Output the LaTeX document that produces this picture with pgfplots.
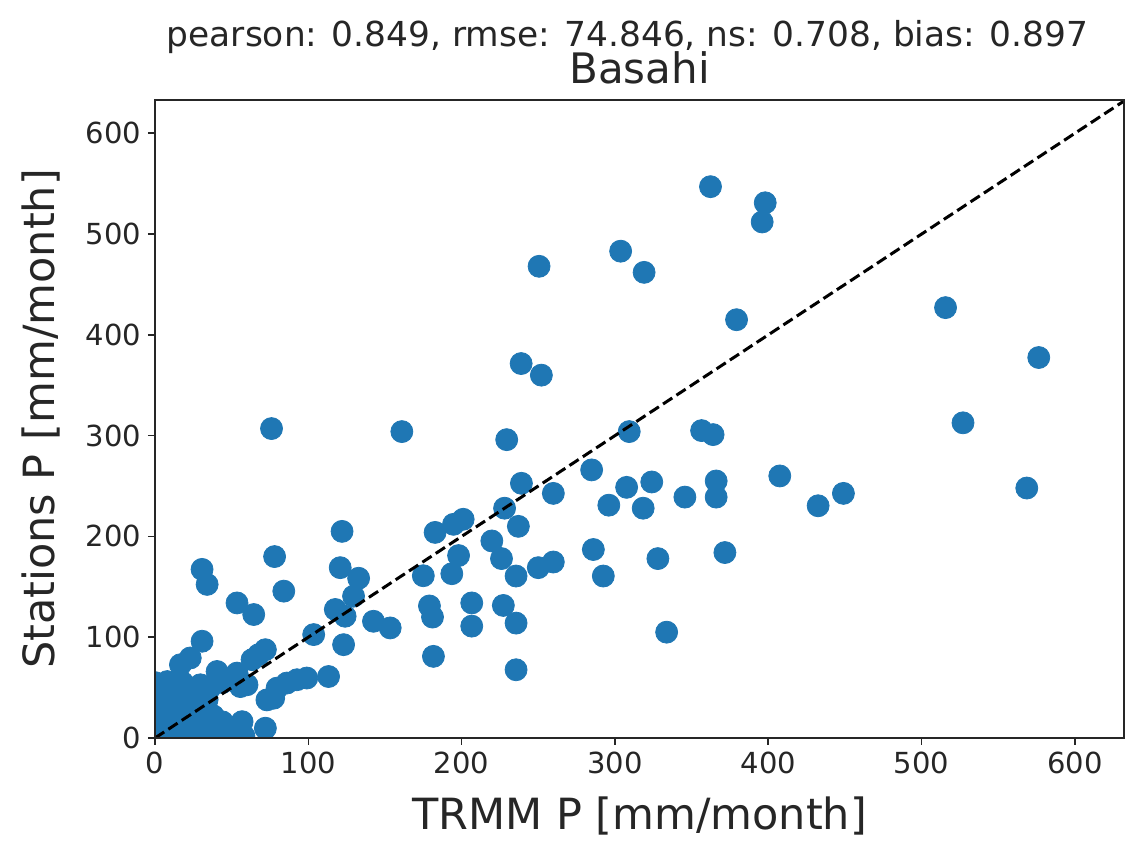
\documentclass[border=0pt]{standalone}
\usepackage{fontspec}
\setmainfont{DejaVu Sans}
\usepackage{pgfplots}
\pgfplotsset{compat=1.18}
\definecolor{mplblue}{HTML}{1F77B4}
\definecolor{txt}{HTML}{262626}
\begin{document}
\begin{tikzpicture}
\useasboundingbox (-77.5pt,-51.5pt) rectangle (485.5pt,369pt);
\begin{axis}[
  name=ax,
  at={(0,0)}, anchor=south west,
  scale only axis, width=484.5pt, height=319pt,
  xmin=0, xmax=632, ymin=0, ymax=633,
  xtick={0,100,...,600}, ytick={0,100,...,600},
  tick align=outside, tick pos=left,
  major tick length=3.5pt,
  axis line style={txt, line width=0.8pt},
  every tick/.style={txt, line width=0.8pt},
  ticklabel style={font=\fontsize{14.5}{17}\selectfont, text=txt},
  /pgf/number format/assume math mode=true,
  xlabel={TRMM P [mm/month]},
  ylabel={Stations P [mm/month]},
  label style={font=\fontsize{21.5}{25}\selectfont, text=txt},
  xlabel style={at={(axis description cs:0.5,0)}, anchor=base, yshift=-46pt},
  ylabel style={at={(axis description cs:-0.1032,0.5)}, anchor=base},
  axis on top,
  clip marker paths=true,
]
\addplot[only marks, mark=*, mark size=5.5pt, mark options={fill=mplblue, draw=mplblue}] table {
x y
362.3 547
398 531
396 512
303.7 483
319 462
250.5 468
379.3 415
515.6 427
576.4 377.5
238.8 371.5
252 360
76 307
161 304
229.4 296
309.3 304
356.5 305
364 301
527 312.7
568.6 248
284.8 266
239 252.7
259.8 242.7
307.6 248.7
324 254
366 255
366 239
345.6 239
407.5 260
432.5 230.4
449 242.7
371.7 184
296 231
318.4 228
228 228
182.7 204
194.7 212
201 217
237 210
219.7 195.5
198 181
226 178
193.6 163
235.5 160.7
250 169
259.8 174.6
285.9 187
292.4 160.7
328 178
175 161
179 131
181 120
206.6 134
206.6 111
227.2 131.5
235.5 114
333.7 105
181.6 81
235.5 67.7
122 205
120.8 169
132.8 158.5
129.5 140.7
30.7 167.3
34 152.4
78 180
84 145.7
53.5 134
64.4 122.5
117.6 127.5
124 120.8
142.5 115.8
153.4 109.2
103.5 102.6
123 92.6
113.2 61
99 59.5
92.6 57.8
86 54.5
79.6 49.5
77.4 39.5
73 37.8
30.7 96
23 79.4
16.6 72.7
72 87.6
67.6 82.7
63.3 77.7
40.5 66
53.5 64.4
60 52.8
55.7 51
29.6 52.8
4.7 52.8
56.8 16.2
72 9.7
0 2
8 4
16 2
24 5
32 3
40 4
46 8
52 3
4 14
12 12
20 15
28 12
36 13
44 16
2 26
10 24
18 27
26 25
33 20
6 36
14 38
22 34
28 40
2 46
12 48
20 45
36 50
44 55
6 20
14 30
22 20
30 28
38 22
16 8
26 40
34 38
8 56
18 55
0 35
0 15
36 0
48 0
58 2
0 55
};
\addplot[black, line width=1.5pt, dash pattern=on 5.5pt off 2.5pt] coordinates {(0,0) (632,632)};
\end{axis}
\node[font=\fontsize{21}{24}\selectfont, text=txt, anchor=base] at ([yshift=8pt]ax.north) {Basahi};
\node[font=\fontsize{17.2}{20}\selectfont, text=txt, anchor=base] at ([yshift=26.5pt, xshift=-6pt]ax.north) {pearson: 0.849, rmse: 74.846, ns: 0.708, bias: 0.897};
\end{tikzpicture}
\end{document}
